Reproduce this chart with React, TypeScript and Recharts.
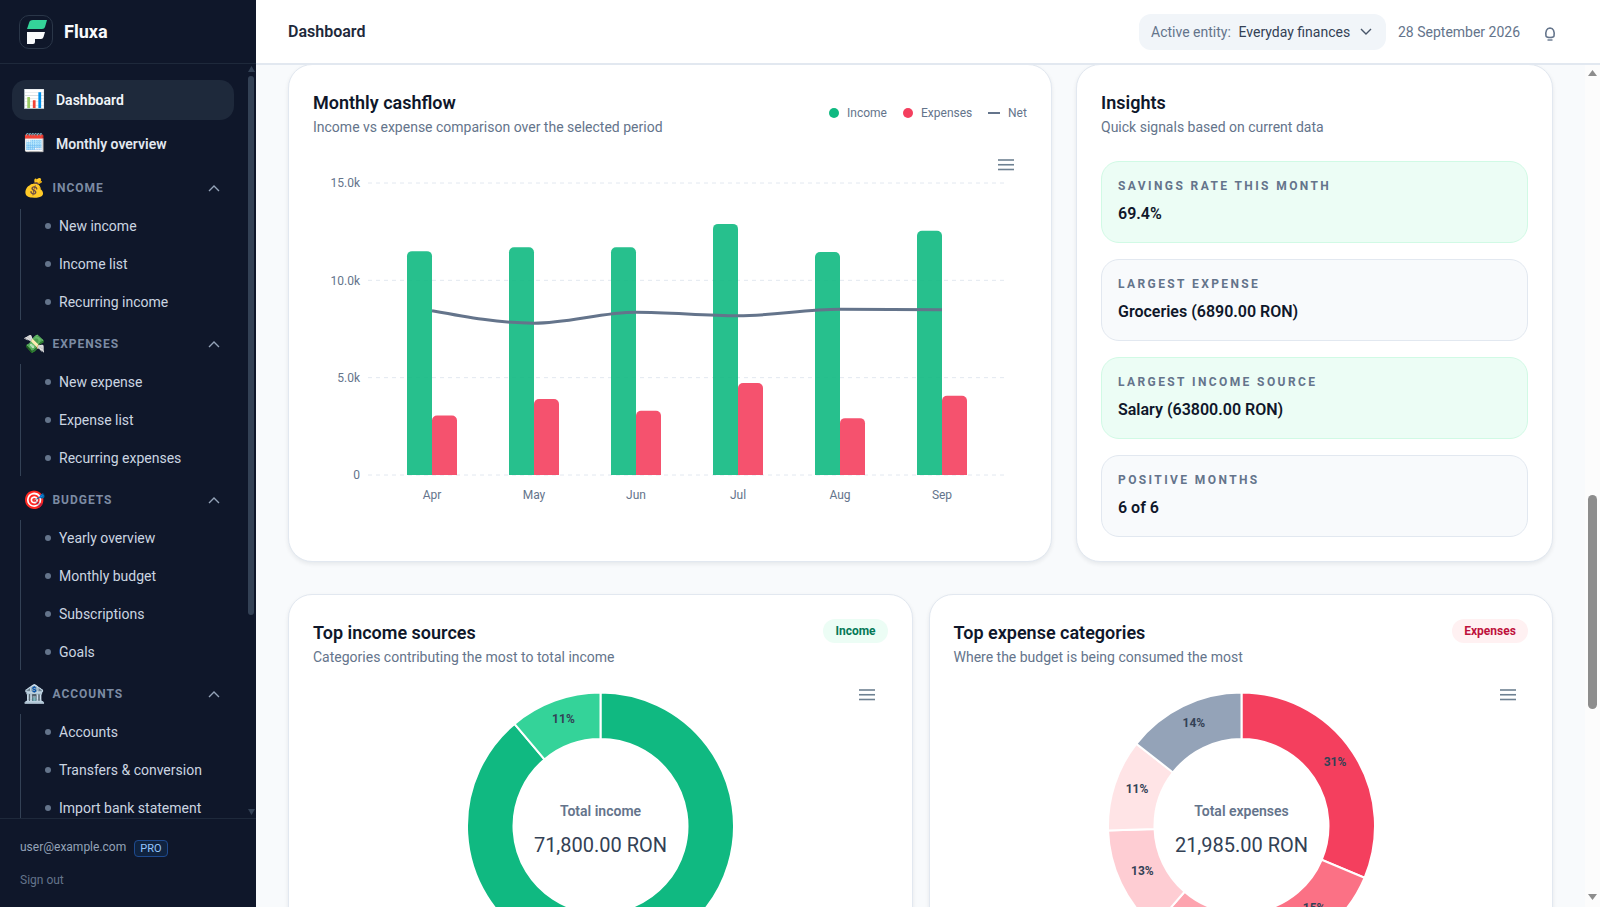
import React from "react";
import {
  ComposedChart,
  Bar,
  Line,
  XAxis,
  YAxis,
  CartesianGrid,
  Legend,
  PieChart,
  Pie,
  Cell,
} from "recharts";

const months = ["Apr", "May", "Jun", "Jul", "Aug", "Sep"];
const incomeValues = [11500, 11700, 11700, 12900, 11450, 12550];
const expenseValues = [3060, 3900, 3300, 4720, 2920, 4065];
const netValues = [8440, 7800, 8360, 8180, 8510, 8490];
const yTicks = [0, 5000, 10000, 15000];

const incomeSources = ["Salary", "Other"];
const incomeSourceValues = [63800, 8000];
const expenseCategories = ["Groceries", "Housing", "Transport", "Utilities", "Leisure", "Other"];
const expenseCategoryValues = [6890, 3300, 3300, 2880, 2440, 3175];

const incomeColors = ["#10b981", "#34d399"];
const expenseColors = ["#f43f5e", "#fb7185", "#fda4af", "#fecdd3", "#ffe4e6", "#94a3b8"];

const insights = [
  { label: "SAVINGS RATE THIS MONTH", value: "69.4%", good: true },
  { label: "LARGEST EXPENSE", value: "Groceries (6890.00 RON)", good: false },
  { label: "LARGEST INCOME SOURCE", value: "Salary (63800.00 RON)", good: true },
  { label: "POSITIVE MONTHS", value: "6 of 6", good: false },
];

const navSections = [
  { title: "INCOME", icon: "💰", items: ["New income", "Income list", "Recurring income"] },
  { title: "EXPENSES", icon: "💸", items: ["New expense", "Expense list", "Recurring expenses"] },
  { title: "BUDGETS", icon: "🎯", items: ["Yearly overview", "Monthly budget", "Subscriptions", "Goals"] },
  { title: "ACCOUNTS", icon: "🏦", items: ["Accounts", "Transfers & conversion", "Import bank statement"] },
];

const cashflowData = months.map((m, i) => ({
  month: m,
  income: incomeValues[i],
  expenses: expenseValues[i],
  net: netValues[i],
}));
const incomeData = incomeSources.map((n, i) => ({ name: n, value: incomeSourceValues[i] }));
const expenseData = expenseCategories.map((n, i) => ({ name: n, value: expenseCategoryValues[i] }));

const FONT = "Roboto, sans-serif";
const EMOJI = "'Noto Color Emoji', Roboto, sans-serif";

const T = ({ x, y, size = 14, color = "#64748b", weight = 400, spacing = 0, children, font = FONT }: any) => (
  <div
    style={{
      position: "absolute",
      left: x,
      top: Math.round(y) - 12,
      lineHeight: "24px",
      fontSize: size,
      color,
      fontWeight: weight,
      letterSpacing: spacing,
      whiteSpace: "nowrap",
      fontFamily: font,
    }}
  >
    {children}
  </div>
);

const Box = ({ x, y, w, h, style }: any) => (
  <div style={{ position: "absolute", left: x, top: y, width: w, height: h, boxSizing: "border-box", ...style }} />
);

const Chevron = ({ x, y, up, color }: any) => (
  <svg style={{ position: "absolute", left: x - 6, top: y - 4 }} width={12} height={8}>
    <polyline
      points={up ? "1,7 6,2 11,7" : "1,1 6,6 11,1"}
      fill="none"
      stroke={color}
      strokeWidth={1.4}
    />
  </svg>
);

const Arrow = ({ x, y, up, color, w = 9 }: any) => (
  <svg style={{ position: "absolute", left: x - w / 2, top: y - 3 }} width={w} height={6}>
    <polygon points={up ? `0,6 ${w / 2},0 ${w},6` : `0,0 ${w},0 ${w / 2},6`} fill={color} />
  </svg>
);

const MenuIcon = ({ x, y }: any) => (
  <svg style={{ position: "absolute", left: x, top: y }} width={16} height={12}>
    {[1, 5.75, 10.5].map((ly) => (
      <line key={ly} x1={0} x2={16} y1={ly} y2={ly} stroke="#6e8192" strokeWidth={1.6} />
    ))}
  </svg>
);

const Card = ({ x, y, w, h }: any) => (
  <Box
    x={x}
    y={y}
    w={w}
    h={h}
    style={{
      background: "#fff",
      border: "1px solid #e2e8f0",
      borderRadius: 24,
      boxShadow: "0 2px 4px rgba(15,23,42,0.08)",
    }}
  />
);

const Sidebar = () => {
  let y = 187.5;
  const rows: React.ReactNode[] = [];
  navSections.forEach((s, n) => {
    const headY = y;
    const labelY = headY + (n > 0 ? 1 : 0);
    rows.push(
      <T key={s.title + "i"} x={23} y={labelY} size={18} font={EMOJI}>
        {s.icon}
      </T>,
      <T key={s.title} x={52.5} y={labelY} size={12} weight={700} spacing={0.96} color="#7c8ba3">
        {s.title}
      </T>,
      <Chevron key={s.title + "c"} x={214} y={labelY} up color="#94a3b8" />
    );
    const lastY = headY + 38.4 + (s.items.length - 1) * 38;
    rows.push(
      <Box key={s.title + "l"} x={20} y={headY + 21} w={1} h={lastY - headY - 21 + 18} style={{ background: "#334155" }} />
    );
    s.items.forEach((it, i) => {
      const iy = headY + 38.4 + i * 38;
      rows.push(
        <Box key={it + "d"} x={45} y={Math.round(iy) - 3} w={6} h={6} style={{ background: "#64748b", borderRadius: 3 }} />,
        <T key={it} x={59} y={iy} color="#cbd5e1">
          {it}
        </T>
      );
    });
    y = lastY + 41.5;
  });
  return (
    <div style={{ position: "absolute", left: 0, top: 0, width: 256, height: 907, background: "#0f172a", overflow: "hidden" }}>
      <Box x={19} y={15} w={34} h={34} style={{ background: "#0f172a", border: "1px solid #2a3648", borderRadius: 10 }} />
      <svg style={{ position: "absolute", left: 19, top: 15 }} width={34} height={34}>
        <path d="M10 8 Q10.5 5 14 5 L28 5 L26 12 Q25.5 14 23 14 L8 14 Z" fill="#34d399" />
        <path d="M8 17 L26 17 L24.5 22 Q24 24 22 24 L16 24 L16 27 Q16 29 14 29 L8 29 Z" fill="#f8fafc" />
      </svg>
      <T x={64} y={32} size={18} weight={700} color="#f8fafc">Fluxa</T>
      <Box x={0} y={63} w={256} h={1} style={{ background: "#1e293b" }} />
      <Box x={12} y={80} w={222} h={40} style={{ background: "#1e293b", borderRadius: 14 }} />
      <T x={23} y={99} size={18} font={EMOJI}>📊</T>
      <T x={56} y={100} weight={600} color="#f1f5f9">Dashboard</T>
      <T x={23} y={143} size={18} font={EMOJI}>🗓️</T>
      <T x={56} y={144} weight={600} color="#e2e8f0">Monthly overview</T>
      {rows}
      <Box x={248} y={76} w={6} h={539} style={{ background: "#334155", borderRadius: 3 }} />
      <Arrow x={251} y={69} up color="#334155" w={7} />
      <Arrow x={251} y={812} color="#334155" w={7} />
      <Box x={0} y={818} w={256} h={89} style={{ background: "#0f172a", borderTop: "1px solid #1e293b" }} />
      <T x={20} y={847} size={12} color="#94a3b8">user@example.com</T>
      <div
        style={{
          position: "absolute",
          left: 134,
          top: 840,
          width: 34,
          height: 17,
          boxSizing: "border-box",
          border: "1px solid #1e4a8f",
          background: "#10233f",
          borderRadius: 4,
          color: "#93c5fd",
          fontSize: 11,
          fontFamily: FONT,
          fontWeight: 400,
          lineHeight: "15px",
          textAlign: "center",
        }}
      >
        PRO
      </div>
      <T x={20} y={880} size={12} color="#64748b">Sign out</T>
    </div>
  );
};

const Header = () => (
  <>
    <Box x={256} y={0} w={1344} h={65} style={{ background: "#fff", borderBottom: "2px solid #e2e8f0" }} />
    <T x={288} y={32} size={16} weight={600} color="#1e293b">Dashboard</T>
    <Box x={1139} y={14} w={247} h={36} style={{ background: "#f1f5f9", borderRadius: 12 }} />
    <T x={1151} y={32}>Active entity:</T>
    <T x={1238.5} y={32} color="#334155">Everyday finances</T>
    <Chevron x={1366} y={32} color="#475569" />
    <T x={1398} y={32}>28 September 2026</T>
    <svg style={{ position: "absolute", left: 1544, top: 27 }} width={12} height={14}>
      <path d="M2 9 Q1 1.5 6 1 Q11 1.5 10 9 Q9.5 10.5 6 10.5 Q2.5 10.5 2 9 Z" fill="none" stroke="#64748b" strokeWidth={1.6} />
      <line x1={3.5} x2={8.5} y1={13} y2={13} stroke="#64748b" strokeWidth={1.4} />
    </svg>
  </>
);

const LegendContent = () => (
  <div style={{ position: "relative", width: 220, height: 20, fontFamily: FONT, fontSize: 12, color: "#64748b" }}>
    {[
      { name: "Income", color: "#10b981", left: 0, text: 18 },
      { name: "Expenses", color: "#f43f5e", left: 74, text: 92 },
    ].map((l) => (
      <React.Fragment key={l.name}>
        <span style={{ position: "absolute", left: l.left, top: 5, width: 10, height: 10, borderRadius: 5, background: l.color }} />
        <span style={{ position: "absolute", left: l.text, top: 3, lineHeight: "14px" }}>{l.name}</span>
      </React.Fragment>
    ))}
    <span style={{ position: "absolute", left: 159, top: 9, width: 12, height: 2, background: "#64748b" }} />
    <span style={{ position: "absolute", left: 179, top: 3, lineHeight: "14px" }}>Net</span>
  </div>
);

const CashflowChart = () => (
  <div style={{ position: "absolute", left: 289, top: 64 }}>
    <ComposedChart
      width={762}
      height={466}
      data={cashflowData}
      barGap={0}
      barSize={25}
      margin={{ top: 119, right: 46, bottom: 25, left: 0 }}
    >
      <CartesianGrid vertical={false} stroke="#e2e8f0" strokeDasharray="4 4" />
      <XAxis
        dataKey="month"
        axisLine={false}
        tickLine={false}
        height={30}
        padding={{ left: 13, right: 12 }}
        tick={{ fill: "#64748b", fontSize: 12, fontFamily: FONT }}
        tickMargin={9}
      />
      <YAxis
        width={79}
        domain={[0, 15000]}
        ticks={yTicks}
        axisLine={false}
        tickLine={false}
        tickMargin={2}
        tickFormatter={(v: number) => (v === 0 ? "0" : `${(v / 1000).toFixed(1)}k`)}
        tick={{ fill: "#64748b", fontSize: 12, fontFamily: FONT }}
      />
      <Legend
        layout="horizontal"
        align="center"
        verticalAlign="middle"
        content={<LegendContent />}
        wrapperStyle={{ left: 540, top: 39, width: 220, height: 20 }}
      />
      <Bar dataKey="income" fill="#10b981" fillOpacity={0.9} radius={[5, 5, 0, 0]} isAnimationActive={false} />
      <Bar dataKey="expenses" fill="#f43f5e" fillOpacity={0.9} radius={[5, 5, 0, 0]} isAnimationActive={false} />
      <Line dataKey="net" type="monotone" stroke="#64748b" strokeWidth={3} dot={false} isAnimationActive={false} />
    </ComposedChart>
  </div>
);

const pctLabel = (p: any) => {
  const r = 111;
  const a = (-p.midAngle * Math.PI) / 180;
  return (
    <text
      x={p.cx + r * Math.cos(a) + 1}
      y={p.cy + r * Math.sin(a) - 3}
      textAnchor="middle"
      dominantBaseline="central"
      fill="#334155"
      fontSize={12}
      fontWeight={700}
      fontFamily={FONT}
    >
      {`${Math.round(p.percent * 100)}%`}
    </text>
  );
};

const Donut = ({ left, width, cx, data, colors, title, total }: any) => (
  <div style={{ position: "absolute", left, top: 680 }}>
    <PieChart width={width} height={300} margin={{ top: 0, right: 0, bottom: 0, left: 0 }}>
      <Pie
        data={data}
        dataKey="value"
        nameKey="name"
        cx={cx}
        cy={146}
        innerRadius={87}
        outerRadius={133.5}
        startAngle={90}
        endAngle={-270}
        stroke="#fff"
        strokeWidth={2}
        label={pctLabel}
        labelLine={false}
        isAnimationActive={false}
      >
        {data.map((d: any, i: number) => (
          <Cell key={d.name} fill={colors[i]} />
        ))}
      </Pie>
      <text x={cx} y={131} textAnchor="middle" dominantBaseline="central" fill="#64748b" fontSize={14} fontWeight={600} fontFamily={FONT}>
        {title}
      </text>
      <text x={cx} y={165} textAnchor="middle" dominantBaseline="central" fill="#334155" fontSize={20} fontFamily={FONT}>
        {total}
      </text>
    </PieChart>
  </div>
);

const Badge = ({ x, w, bg, color, children }: any) => (
  <div
    style={{
      position: "absolute",
      left: x,
      top: 619,
      width: w,
      height: 24,
      background: bg,
      color,
      borderRadius: 12,
      fontFamily: FONT,
      fontSize: 12,
      fontWeight: 700,
      lineHeight: "24px",
      textAlign: "center",
    }}
  >
    {children}
  </div>
);

export default function App() {
  return (
    <div style={{ position: "absolute", left: 0, top: 0, width: 1600, height: 907, overflow: "hidden", background: "#f8fafc" }}>
      {/* main scrollbar */}
      <Box x={1585} y={64} w={15} h={843} style={{ background: "#fcfcfc" }} />
      <Box x={1588} y={495} w={9} h={214} style={{ background: "#8d8d8d", borderRadius: 5 }} />
      <Arrow x={1592.5} y={73} up color="#8d8d8d" />
      <Arrow x={1592.5} y={897} color="#8d8d8d" />

      {/* cashflow card */}
      <Card x={288} y={64} w={764} h={498} />
      <T x={313} y={103} size={18} weight={600} color="#0f172a">Monthly cashflow</T>
      <T x={313} y={127}>Income vs expense comparison over the selected period</T>
      <CashflowChart />
      <MenuIcon x={998} y={159} />

      {/* insights card */}
      <Card x={1076} y={64} w={477} h={498} />
      <T x={1101} y={103} size={18} weight={600} color="#0f172a">Insights</T>
      <T x={1101} y={127}>Quick signals based on current data</T>
      {insights.map((it, i) => (
        <React.Fragment key={it.label}>
          <Box
            x={1101}
            y={161 + i * 98}
            w={427}
            h={82}
            style={{
              background: it.good ? "#ecfdf5" : "#f8fafc",
              border: `1px solid ${it.good ? "#d1fae5" : "#e2e8f0"}`,
              borderRadius: 18,
            }}
          />
          <T x={1118} y={185.5 + i * 98} size={12} weight={700} spacing={2.4} color="#64748b">{it.label}</T>
          <T x={1118} y={214 + i * 98} size={16} weight={600} color="#0f172a">{it.value}</T>
        </React.Fragment>
      ))}

      {/* donut cards */}
      <Card x={288} y={594} w={625} h={400} />
      <T x={313} y={633} size={18} weight={600} color="#0f172a">Top income sources</T>
      <T x={313} y={657}>Categories contributing the most to total income</T>
      <Badge x={823} w={65} bg="#ecfdf5" color="#047857">Income</Badge>
      <Donut left={289} width={624} cx={311.5} data={incomeData} colors={incomeColors} title="Total income" total="71,800.00 RON" />
      <MenuIcon x={859} y={689} />

      <Card x={929} y={594} w={624} h={400} />
      <T x={953.5} y={633} size={18} weight={600} color="#0f172a">Top expense categories</T>
      <T x={953.5} y={657}>Where the budget is being consumed the most</T>
      <Badge x={1452} w={76} bg="#fff1f2" color="#be123c">Expenses</Badge>
      <Donut left={929} width={624} cx={312.5} data={expenseData} colors={expenseColors} title="Total expenses" total="21,985.00 RON" />
      <MenuIcon x={1500} y={689} />

      <Header />
      <Sidebar />
    </div>
  );
}
